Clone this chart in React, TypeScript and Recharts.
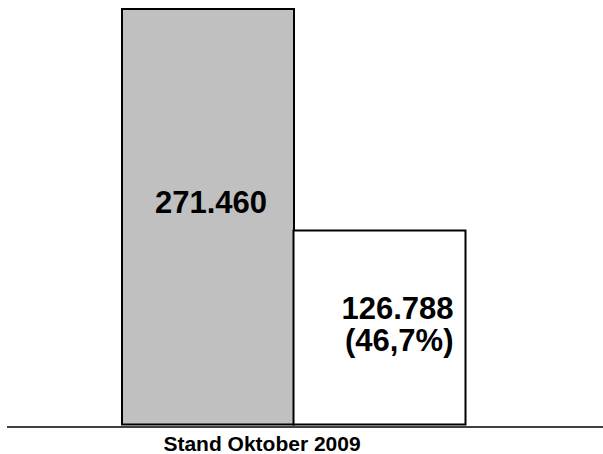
import { Bar, BarChart, Cell, Label, LabelList, XAxis, YAxis } from "recharts";

const categories = ["Gesamt", "Anteil"];
const values = [271460, 126788];
const fills = ["#c0c0c0", "#ffffff"];
const caption = "Stand Oktober 2009";

const data = categories.map((name, i) => ({ name, value: values[i] }));

const FONT = "'Liberation Sans', Arial, sans-serif";

function fmtThousands(v: number) {
  return String(v).replace(/\B(?=(\d{3})+(?!\d))/g, ".");
}

function fmtPercent(v: number, total: number) {
  return `(${((v / total) * 100).toFixed(1).replace(".", ",")}%)`;
}

function BarLabel(props: any) {
  const { x, y, width, height, index, value } = props;
  if (index === 0) {
    return (
      <text
        x={x + width / 2 + 3}
        y={y + height * 0.49}
        textAnchor="middle"
        fontFamily={FONT}
        fontWeight="bold"
        fontSize={31}
        fill="#000"
      >
        {fmtThousands(value)}
      </text>
    );
  }
  // two lines, right aligned near the bar's right edge
  const right = x + width - 12;
  return (
    <g>
      <text
        x={right}
        y={y + height / 2 - 8}
        textAnchor="end"
        fontFamily={FONT}
        fontWeight="bold"
        fontSize={31}
        fill="#000"
      >
        {fmtThousands(value)}
      </text>
      <text
        x={right}
        y={y + height / 2 + 24}
        textAnchor="end"
        fontFamily={FONT}
        fontWeight="bold"
        fontSize={31}
        fill="#000"
      >
        {fmtPercent(value, values[0])}
      </text>
    </g>
  );
}

export default function App() {
  return (
    <div style={{ position: "absolute", left: 0, top: 0, background: "#fff" }}>
      <BarChart
        width={603}
        height={454}
        data={data}
        margin={{ top: 9, right: 0, bottom: 0, left: 7 }}
        barCategoryGap={0}
        barGap={0}
      >
        <YAxis hide domain={[-1650, 271460]} />
        <XAxis
          dataKey="name"
          tick={false}
          tickLine={false}
          height={27}
          padding={{ left: 115, right: 138 }}
          axisLine={{ stroke: "#000", strokeWidth: 1.4 }}
        >
          <Label
            content={(p: any) => (
              <text
                x={p.viewBox.x + 255}
                y={451}
                textAnchor="middle"
                fontFamily={FONT}
                fontWeight="bold"
                fontSize={21}
                fill="#000"
              >
                {caption}
              </text>
            )}
          />
        </XAxis>
        <Bar dataKey="value" stroke="#000" strokeWidth={2} isAnimationActive={false}>
          {data.map((d, i) => (
            <Cell key={d.name} fill={fills[i]} />
          ))}
          <LabelList dataKey="value" content={BarLabel} />
        </Bar>
      </BarChart>
    </div>
  );
}
